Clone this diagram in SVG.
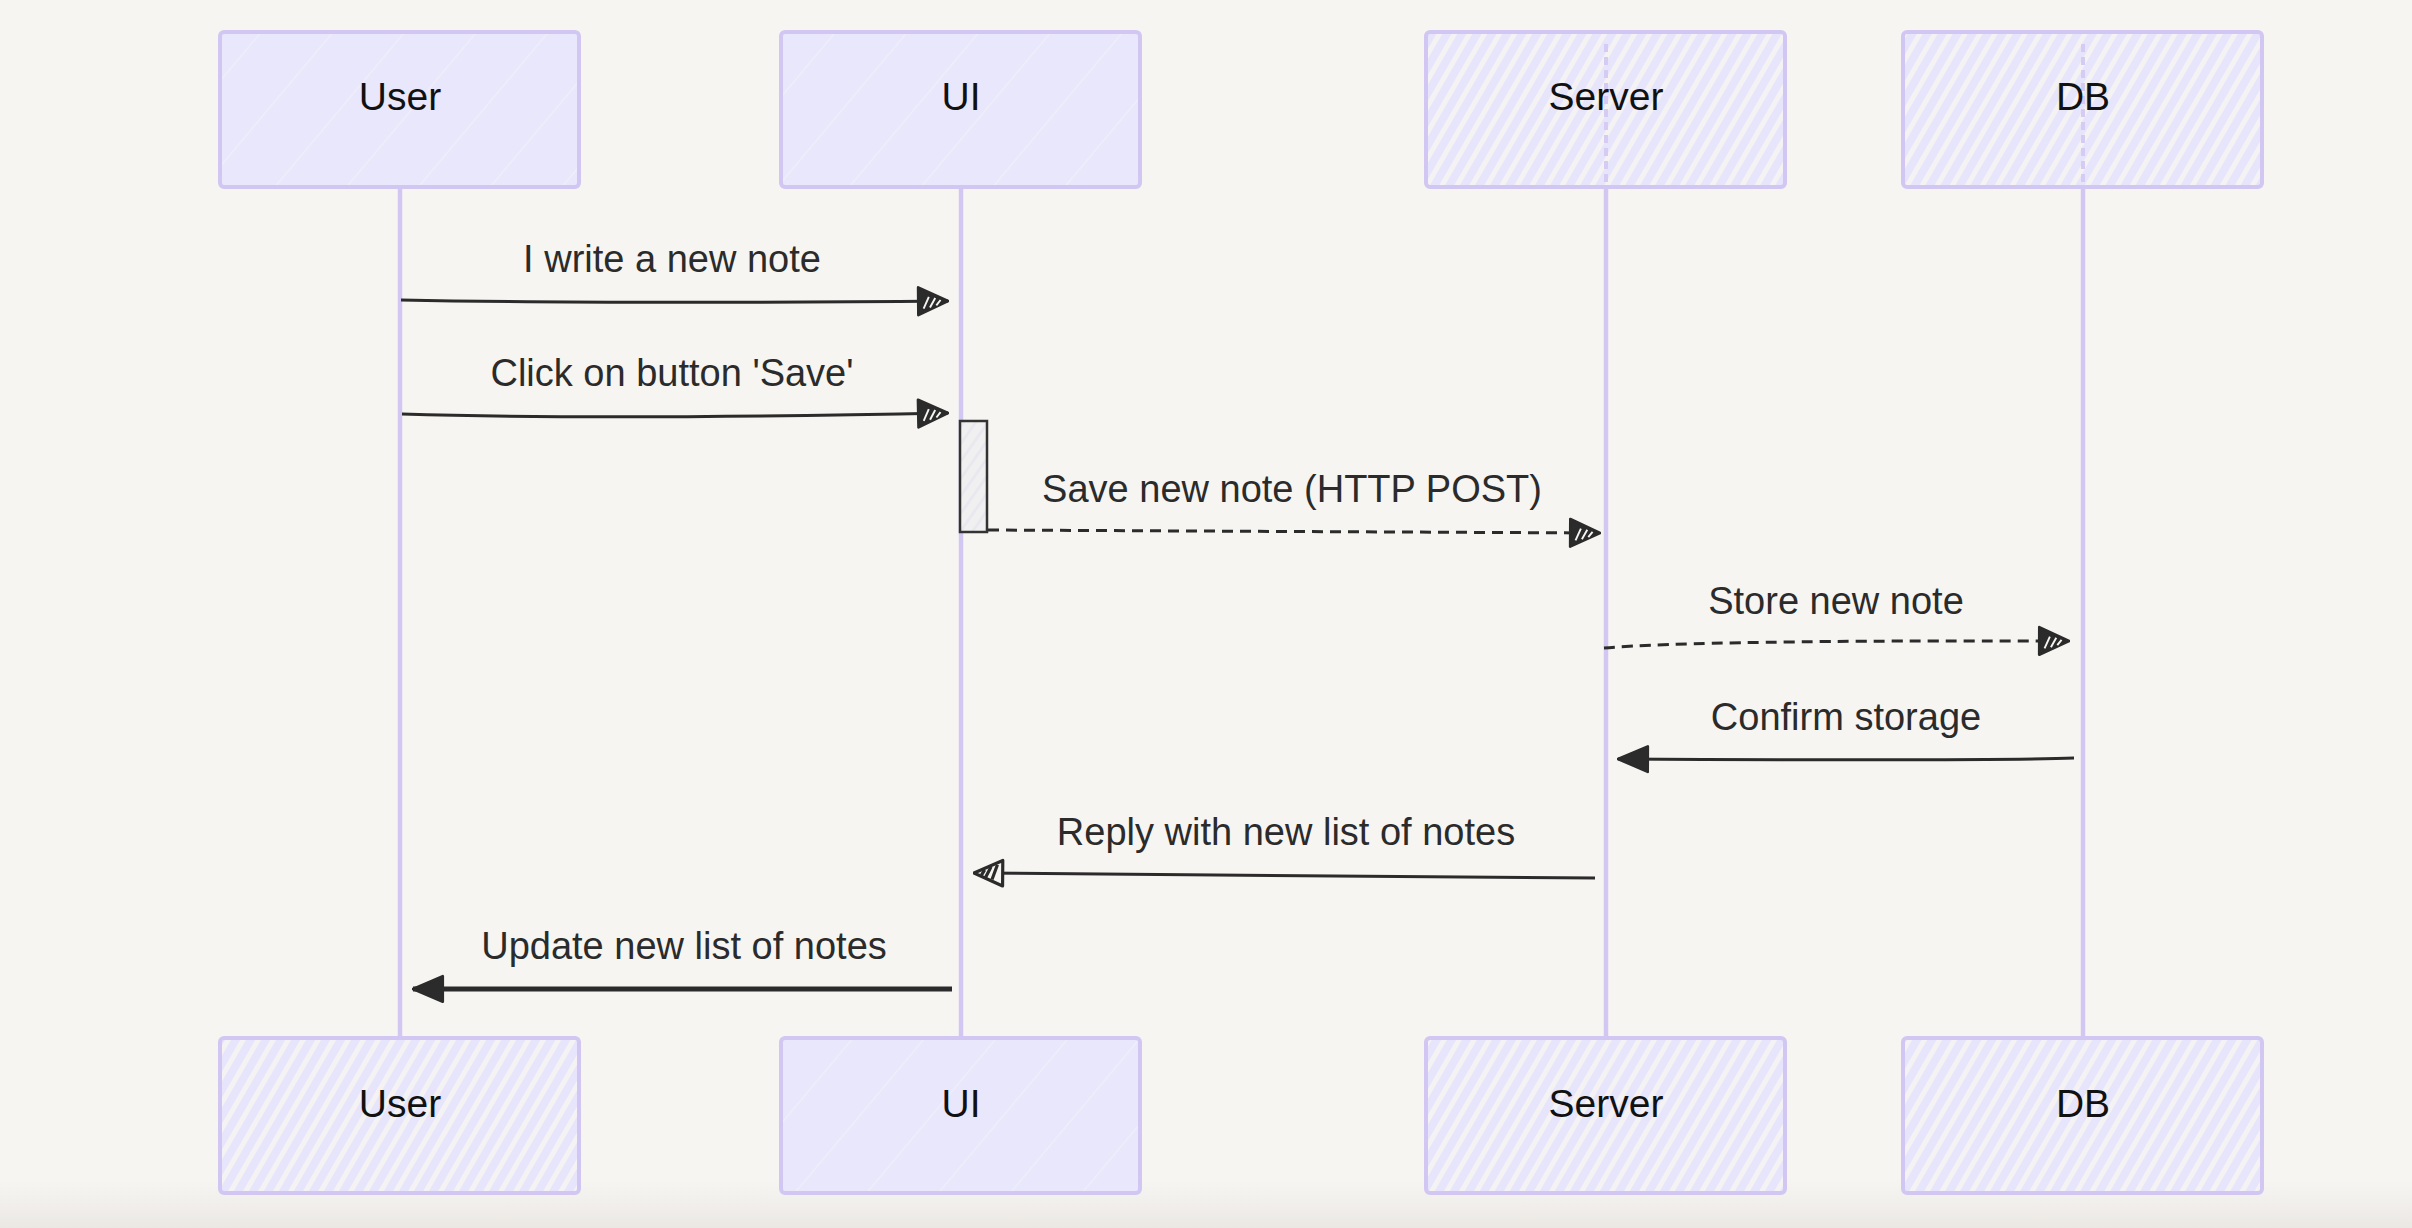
<svg xmlns="http://www.w3.org/2000/svg" width="2412" height="1228" viewBox="0 0 2412 1228">
<defs>
<style>
.actor{stroke:#d2c7f3;stroke-width:4}
.strong{fill:url(#hatchStrong)}
.light{fill:url(#hatchLight)}
.lbl{font-family:"Liberation Sans",Arial,sans-serif;font-size:39px;fill:#111;text-anchor:middle}
.msg{font-family:"Liberation Sans",Arial,sans-serif;font-size:38px;fill:#2b2b2b;text-anchor:middle}
.life{stroke:#d2c7f3;stroke-width:4.5;fill:none}
.lifeIn{stroke:#d6ccf3;stroke-width:4;stroke-dasharray:8 5;fill:none}
.line{stroke:#2b2b2b;stroke-width:3;fill:none}
.dash{stroke:#2b2b2b;stroke-width:3;stroke-dasharray:11 7;fill:none}
</style>
<linearGradient id="bottomFade" x1="0" y1="0" x2="0" y2="1">
<stop offset="0" stop-color="#f7f5f2"/>
<stop offset="1" stop-color="#ebe8e4"/>
</linearGradient>
<pattern id="hatchStrong" patternUnits="userSpaceOnUse" width="13" height="13" patternTransform="rotate(30)">
<rect width="13" height="13" fill="#e6e5fc"/>
<rect x="0" width="5" height="13" fill="#f5f2f3"/>
</pattern>
<pattern id="hatchLight" patternUnits="userSpaceOnUse" width="55" height="55" patternTransform="rotate(40)">
<rect width="55" height="55" fill="#e8e7fc"/>
<rect x="0" width="1.5" height="55" fill="#f3f1f8" opacity="0.7"/>
</pattern>
<pattern id="hatchAct" patternUnits="userSpaceOnUse" width="10" height="10" patternTransform="rotate(35)">
<rect width="10" height="10" fill="#f1f0f1"/>
<rect x="0" width="3" height="10" fill="#e9e8ee"/>
</pattern>
<marker id="headHatch" markerUnits="userSpaceOnUse" viewBox="0 0 32 32" markerWidth="34" markerHeight="34" refX="31" refY="16" orient="auto">
<path d="M3,3 L31,16 L3,29 Z" fill="#2b2b2b" stroke="#2b2b2b" stroke-width="2.5" stroke-linejoin="round"/>
<path d="M8,23 L13,12 M14,22 L19,13 M20,20 L24,15" stroke="#f7f5f2" stroke-width="1.8"/>
</marker>
<marker id="headSolid" markerUnits="userSpaceOnUse" viewBox="0 0 32 32" markerWidth="34" markerHeight="34" refX="31" refY="16" orient="auto">
<path d="M3,4 L31,16 L3,28 Z" fill="#2b2b2b" stroke="#2b2b2b" stroke-width="2.5" stroke-linejoin="round"/>
</marker>
<marker id="headOpen" markerUnits="userSpaceOnUse" viewBox="0 0 32 32" markerWidth="34" markerHeight="34" refX="31" refY="16" orient="auto">
<path d="M4,4 L31,16 L4,28 Z" fill="#f7f5f2" stroke="#2b2b2b" stroke-width="3" stroke-linejoin="round"/>
<path d="M9,24 L14,10 M15,22 L20,12 M21,19 L24,14" stroke="#2b2b2b" stroke-width="3"/>
</marker>
</defs>

<rect width="2412" height="1228" fill="#f7f5f2"/>
<rect y="1180" width="2412" height="48" fill="url(#bottomFade)"/>

<g id="lifelines">
<line class="life" x1="400" y1="187" x2="400" y2="1038"/>
<line class="life" x1="961" y1="187" x2="961" y2="1038"/>
<line class="life" x1="1606" y1="187" x2="1606" y2="1038"/>
<line class="life" x1="2083" y1="187" x2="2083" y2="1038"/>
</g>

<g id="actor-user-top">
<rect class="actor light" x="220" y="32" width="359" height="155" rx="4"/>
<text class="lbl" x="400" y="110">User</text>
</g>
<g id="actor-ui-top">
<rect class="actor light" x="781" y="32" width="359" height="155" rx="4"/>
<text class="lbl" x="961" y="110">UI</text>
</g>
<g id="actor-server-top">
<rect class="actor strong" x="1426" y="32" width="359" height="155" rx="4"/>
<line class="lifeIn" x1="1606" y1="44" x2="1606" y2="187"/>
<text class="lbl" x="1606" y="110">Server</text>
</g>
<g id="actor-db-top">
<rect class="actor strong" x="1903" y="32" width="359" height="155" rx="4"/>
<line class="lifeIn" x1="2083" y1="44" x2="2083" y2="187"/>
<text class="lbl" x="2083" y="110">DB</text>
</g>

<g id="actor-user-bottom">
<rect class="actor strong" x="220" y="1038" width="359" height="155" rx="4"/>
<text class="lbl" x="400" y="1117">User</text>
</g>
<g id="actor-ui-bottom">
<rect class="actor light" x="781" y="1038" width="359" height="155" rx="4"/>
<text class="lbl" x="961" y="1117">UI</text>
</g>
<g id="actor-server-bottom">
<rect class="actor strong" x="1426" y="1038" width="359" height="155" rx="4"/>
<text class="lbl" x="1606" y="1117">Server</text>
</g>
<g id="actor-db-bottom">
<rect class="actor strong" x="1903" y="1038" width="359" height="155" rx="4"/>
<text class="lbl" x="2083" y="1117">DB</text>
</g>

<g id="activation-ui">
<rect x="960" y="421" width="27" height="111" fill="url(#hatchAct)" stroke="#333" stroke-width="2.5"/>
</g>

<g id="connectors">
<path class="line" d="M401,300 Q600,304 948,301" marker-end="url(#headHatch)"/>
<path class="line" d="M402,414 Q600,420 948,413" marker-end="url(#headHatch)"/>
<path class="dash" d="M988,530 L1600,533" marker-end="url(#headHatch)"/>
<path class="dash" d="M1604,648 Q1700,640 2069,641" marker-end="url(#headHatch)"/>
<path class="line" d="M2074,758 Q2000,761 1618,759" marker-end="url(#headSolid)"/>
<path class="line" d="M1595,878 L974,873" marker-end="url(#headOpen)"/>
<path class="line" style="stroke-width:5" d="M952,989 L413,989" marker-end="url(#headSolid)"/>
</g>

<g id="labels">
<text class="msg" x="672" y="272">I write a new note</text>
<text class="msg" x="672" y="386">Click on button 'Save'</text>
<text class="msg" x="1292" y="502">Save new note (HTTP POST)</text>
<text class="msg" x="1836" y="614">Store new note</text>
<text class="msg" x="1846" y="730">Confirm storage</text>
<text class="msg" x="1286" y="845">Reply with new list of notes</text>
<text class="msg" x="684" y="959">Update new list of notes</text>
</g>
</svg>
